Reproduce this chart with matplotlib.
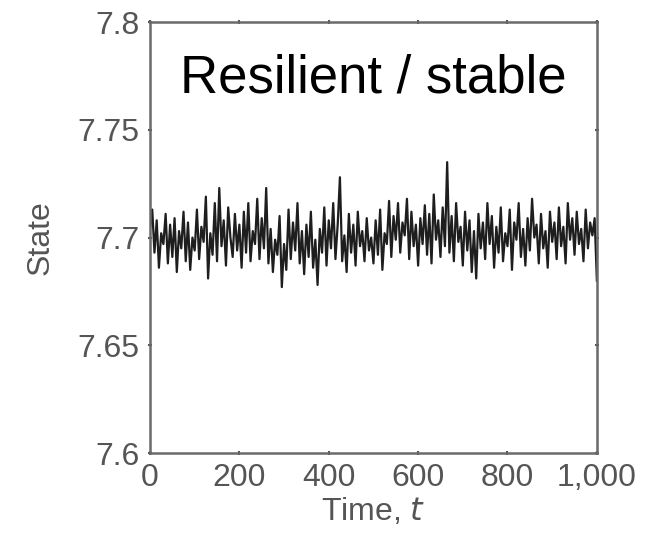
import numpy as np
import matplotlib
matplotlib.use("Agg")
from matplotlib import pyplot as plt
from matplotlib.ticker import FuncFormatter

# state, one value every 5 time steps (t = 0 ... 1000)
state = [
    7.704, 7.713, 7.693, 7.708, 7.686, 7.702, 7.697, 7.711, 7.688, 7.706,
    7.691, 7.709, 7.684, 7.703, 7.695, 7.712, 7.689, 7.707, 7.685, 7.700,
    7.694, 7.713, 7.690, 7.705, 7.698, 7.719, 7.681, 7.702, 7.692, 7.716,
    7.689, 7.723, 7.696, 7.708, 7.687, 7.714, 7.700, 7.691, 7.711, 7.694,
    7.706, 7.686, 7.712, 7.693, 7.716, 7.689, 7.703, 7.697, 7.718, 7.690,
    7.709, 7.695, 7.723, 7.688, 7.704, 7.684, 7.699, 7.692, 7.710, 7.677,
    7.697, 7.685, 7.713, 7.690, 7.707, 7.694, 7.716, 7.688, 7.703, 7.683,
    7.706, 7.691, 7.712, 7.686, 7.699, 7.678, 7.704, 7.693, 7.714, 7.687,
    7.708, 7.695, 7.716, 7.690, 7.706, 7.728, 7.689, 7.701, 7.684, 7.711,
    7.693, 7.706, 7.687, 7.712, 7.696, 7.703, 7.689, 7.709, 7.694, 7.700,
    7.688, 7.708, 7.692, 7.713, 7.685, 7.702, 7.697, 7.717, 7.691, 7.710,
    7.699, 7.716, 7.693, 7.707, 7.701, 7.718, 7.690, 7.712, 7.696, 7.706,
    7.687, 7.709, 7.697, 7.715, 7.692, 7.711, 7.688, 7.720, 7.699, 7.708,
    7.691, 7.714, 7.696, 7.735, 7.693, 7.710, 7.689, 7.716, 7.698, 7.705,
    7.687, 7.712, 7.694, 7.708, 7.684, 7.703, 7.681, 7.711, 7.695, 7.707,
    7.690, 7.716, 7.697, 7.710, 7.686, 7.705, 7.693, 7.714, 7.689, 7.702,
    7.696, 7.713, 7.685, 7.707, 7.699, 7.716, 7.691, 7.704, 7.687, 7.709,
    7.694, 7.718, 7.700, 7.706, 7.688, 7.711, 7.695, 7.703, 7.686, 7.712,
    7.698, 7.707, 7.690, 7.714, 7.696, 7.705, 7.688, 7.716, 7.699, 7.709,
    7.692, 7.712, 7.697, 7.704, 7.689, 7.713, 7.695, 7.707, 7.701, 7.709,
    7.680,
]
time = np.linspace(0, 1000, len(state))

x_ticks = [0, 200, 400, 600, 800, 1000]
y_ticks = [7.6, 7.65, 7.7, 7.75, 7.8]
y_tick_labels = ["7.6", "7.65", "7.7", "7.75", "7.8"]

plt.rcParams["font.family"] = ["Liberation Sans", "DejaVu Sans"]
grey = "#555555"

fig = plt.figure(figsize=(6.64, 5.42), dpi=100)
ax = fig.add_axes([0.2259, 0.1642, 0.673, 0.795])

ax.plot(time, state, color="#1e1e1e", linewidth=1.6)

ax.set_xlim(0, 1000)
ax.set_ylim(7.6, 7.8)
ax.set_xticks(x_ticks)
ax.xaxis.set_major_formatter(FuncFormatter(lambda v, p: f"{int(v):,}"))
ax.set_yticks(y_ticks)
ax.set_yticklabels(y_tick_labels)

for side in ax.spines.values():
    side.set_color("#6a6a6a")
    side.set_linewidth(1.8)
ax.tick_params(direction="inout", length=3, width=1.5, color="#555555",
               labelsize=23, labelcolor=grey, pad=6,
               top=True, right=True)

ax.set_xlabel("Time, $\\it{t}$", fontsize=23, color=grey, labelpad=2)
ax.set_ylabel("State", fontsize=23, color=grey, labelpad=16)

ax.text(0.5, 0.87, "Resilient / stable", transform=ax.transAxes,
        ha="center", va="center", fontsize=38, color="black")

fig.savefig("out.png", dpi=100)
